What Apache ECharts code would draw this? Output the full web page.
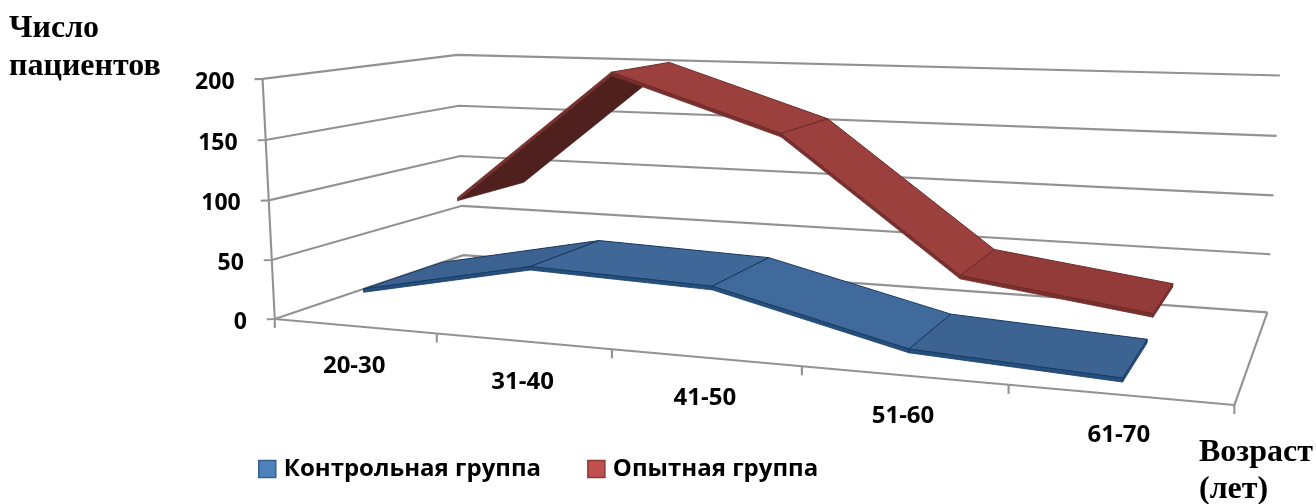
<!DOCTYPE html>
<html><head><meta charset="utf-8">
<style>html,body{margin:0;padding:0;background:#fff}#c{width:1316px;height:504px}</style>
<script src="https://cdn.jsdelivr.net/npm/echarts@6/dist/echarts.min.js"></script>
</head><body><div id="c"></div>
<script>
const categories=['20-30','31-40','41-50','51-60','61-70'];
const valueTicks=[0,50,100,150,200];
const control=[28,57,52,16,8];
const experimental=[82,199,152,42,22];
const fit=[[0,1,0,262,79],[0,.75,0,266,139],[0,.5,0,269,200],[0,.25,0,272,260],[0,0,0,275,318],
[0,1,1,457,55],[0,.75,1,459,106],[0,.5,1,460.5,156],[0,.25,1,462,206],[0,0,1,463,255],
[1,0,0,1234,404],[.2,0,0,437,334],[.4,0,0,611,351],[.6,0,0,802,367],[.8,0,0,1009,385],
[1,1,1,1279,76],[1,.75,1,1277,136],[1,.5,1,1275,195],[1,.25,1,1270,254],[1,0,1,1267,312]];
function solve(A,b){const n=b.length;const M=A.map((r,i)=>[...r,b[i]]);for(let c=0;c<n;c++){let p=c;for(let r=c+1;r<n;r++)if(Math.abs(M[r][c])>Math.abs(M[p][c]))p=r;[M[c],M[p]]=[M[p],M[c]];for(let r=0;r<n;r++)if(r!==c){const f=M[r][c]/M[c][c];for(let k=c;k<=n;k++)M[r][k]-=f*M[c][k];}}return M.map((r,i)=>r[n]/r[i]);}
function fitH(){const S=1000;const A=Array.from({length:11},()=>Array(11).fill(0)),B=Array(11).fill(0);
 const add=(r,t)=>{for(let i=0;i<11;i++){B[i]+=r[i]*t;for(let j=0;j<11;j++)A[i][j]+=r[i]*r[j];}};
 for(const [x,y,z,u0,v0] of fit){const u=u0/S,v=v0/S;add([x,y,z,1,0,0,0,0,-u*x,-u*y,-u*z],u);add([0,0,0,0,x,y,z,1,-v*x,-v*y,-v*z],v);}
 return solve(A,B);}
const H=fitH();
function P(x,y,z){const w=H[8]*x+H[9]*y+H[10]*z+1;return [1000*(H[0]*x+H[1]*y+H[2]*z+H[3])/w,1000*(H[4]*x+H[5]*y+H[6]*z+H[7])/w];}
const xOf=i=>(i+.5)/5,T=2.8;
function seg(vals,i,z0,z1,cols,edge,side,under){ if(i>=vals.length-1)return null;
 const a=vals[i]/200,b=vals[i+1]/200,t=T/200,x0=xOf(i),x1=xOf(i+1);
 const top=[P(x0,a,z0),P(x0,a,z1),P(x1,b,z1),P(x1,b,z0)];
 const ch=[];
 const bot=[P(x0,a-t,z0),P(x0,a-t,z1),P(x1,b-t,z1),P(x1,b-t,z0)];
 if(under[i]){ch.push({type:'polygon',shape:{points:bot},style:{fill:cols[i],stroke:cols[i],lineWidth:.5}});}
 else ch.push({type:'polygon',shape:{points:top},style:{fill:cols[i],stroke:edge,lineWidth:1}});
 ch.push({type:'polygon',shape:{points:[top[0],top[3],bot[3],bot[0]]},style:{fill:side,stroke:edge,lineWidth:.8}});
 if(i===vals.length-2)ch.push({type:'polygon',shape:{points:[top[3],top[2],bot[2],bot[3]]},style:{fill:side,stroke:edge,lineWidth:.8}});
 return {type:'group',children:ch};}
const GR='#929292',LW=2.1;
const FONT='"Open Sans"',SERIF='"Liberation Serif"';
const opt={animation:false,backgroundColor:'#fff',
legend:{left:253,top:452,itemWidth:17,itemHeight:17,itemGap:46,selectedMode:false,textStyle:{fontFamily:FONT,fontWeight:'bold',fontSize:24,color:'#000',padding:[0,0,0,3]},
 data:[{name:'Контрольная группа',icon:'rect',itemStyle:{color:'#4f81bd',borderColor:'#385d8a',borderWidth:1.5}},{name:'Опытная группа',icon:'rect',itemStyle:{color:'#c0504d',borderColor:'#8c3836',borderWidth:1.5}}]},
graphic:[{type:'text',left:9,top:13,style:{text:'Число',fontFamily:SERIF,fontWeight:'bold',fontSize:32,fill:'#000'}},
{type:'text',left:9,top:51,style:{text:'пациентов',fontFamily:SERIF,fontWeight:'bold',fontSize:32,fill:'#000'}},
{type:'text',left:1199,top:437,style:{text:'Возраст',fontFamily:SERIF,fontWeight:'bold',fontSize:32,fill:'#000'}},
{type:'text',left:1199,top:474,style:{text:'(лет)',fontFamily:SERIF,fontWeight:'bold',fontSize:32,fill:'#000'}}],
series:[
{type:'custom',name:'grid',coordinateSystem:'none',z:1,silent:true,data:valueTicks.map(v=>[v]),renderItem(p,api){const y=api.value(0)/200;
 const a=P(0,y,0),b=P(0,y,1),c=P(1,y,1);
 return {type:'group',children:[{type:'polyline',shape:{points:[[a[0]-8,a[1]+.3],a,b,c]},style:{stroke:GR,lineWidth:LW,fill:null}},
 {type:'text',style:{x:a[0]-28,y:a[1]+3.5,text:String(api.value(0)),fontFamily:FONT,fontWeight:'bold',fontSize:23,fill:'#000',align:'right',verticalAlign:'middle'}}]};}},
{type:'custom',name:'frame',coordinateSystem:'none',z:1,silent:true,data:categories.map((c,i)=>[i]),renderItem(p,api){const i=api.value(0);
 const q=P(xOf(i),0,0),s0=P(i/5,0,0),s1=P((i+1)/5,0,0);const ch=[
 {type:'line',shape:{x1:s0[0],y1:s0[1],x2:s1[0],y2:s1[1]},style:{stroke:GR,lineWidth:LW}},
 {type:'line',shape:{x1:s1[0],y1:s1[1],x2:s1[0],y2:s1[1]+9},style:{stroke:GR,lineWidth:LW}},
 {type:'text',style:{x:q[0],y:q[1]+40.5,text:categories[i],fontFamily:FONT,fontWeight:'bold',fontSize:24,fill:'#000',align:'center',verticalAlign:'middle'}}];
 if(i===0){const a=P(0,0,0),b=P(0,1,0);ch.push({type:'line',shape:{x1:a[0],y1:a[1],x2:b[0],y2:b[1]},style:{stroke:GR,lineWidth:LW}},{type:'line',shape:{x1:a[0],y1:a[1],x2:a[0],y2:a[1]+9},style:{stroke:GR,lineWidth:LW}});}
 if(i===4){const a=P(1,0,0),b=P(1,0,1);ch.push({type:'line',shape:{x1:a[0],y1:a[1],x2:b[0],y2:b[1]},style:{stroke:GR,lineWidth:LW}});}
 return {type:'group',children:ch};}},
{type:'custom',name:'Опытная группа',coordinateSystem:'none',z:2,itemStyle:{color:'#c0504d'},data:experimental.map(v=>[v]),renderItem(p,api){return seg(experimental,p.dataIndex,.55,.955,['#4f201e','#9c403d','#9c403d','#933b39'],'#6b2a28','#7a2f2d',[true,false,false,false]);}},
{type:'custom',name:'Контрольная группа',coordinateSystem:'none',z:3,itemStyle:{color:'#4f81bd'},data:control.map(v=>[v]),renderItem(p,api){return seg(control,p.dataIndex,.05,.455,['#3c6291','#3f6797','#3f6a9b','#3d6392'],'#17375e','#24507f',[false,false,false,false]);}}
]};
echarts.init(document.getElementById('c'),null,{renderer:'canvas'}).setOption(opt);
</script></body></html>
